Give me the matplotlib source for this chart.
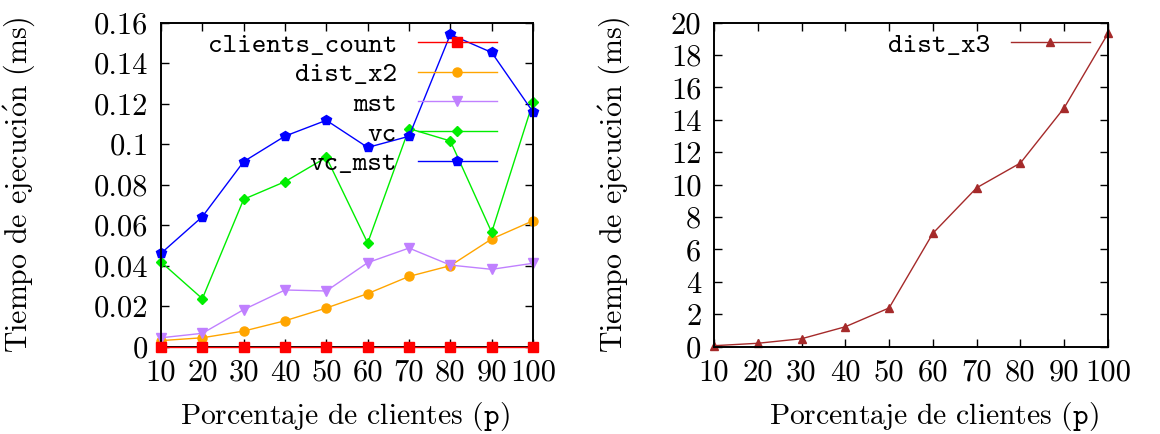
###################################################
# tiempos de ejecucion vs porcentaje de clientes
###################################################
import matplotlib
matplotlib.use("Agg")
import matplotlib.pyplot as plt
from matplotlib.ticker import FuncFormatter

plt.rcParams['font.family'] = ['cmr10', 'DejaVu Serif']
plt.rcParams['mathtext.fontset'] = 'cm'
plt.rcParams['axes.unicode_minus'] = False

# data
porcentaje = [10, 20, 30, 40, 50, 60, 70, 80, 90, 100]
clients_count = [0, 0, 0, 0, 0, 0, 0, 0, 0, 0]
dist_x2 = [0.0030, 0.0044, 0.0077, 0.0128, 0.0191, 0.0262, 0.0347, 0.0400, 0.0532, 0.0622]
mst = [0.0044, 0.0066, 0.0183, 0.0280, 0.0275, 0.0415, 0.0487, 0.0403, 0.0382, 0.0412]
vc = [0.0418, 0.0237, 0.0728, 0.0815, 0.0935, 0.0512, 0.1077, 0.1016, 0.0565, 0.1208]
vc_mst = [0.0461, 0.0642, 0.0914, 0.1040, 0.1118, 0.0984, 0.1039, 0.1542, 0.1453, 0.1159]
dist_x3 = [0.06, 0.21, 0.49, 1.23, 2.39, 7.0, 9.81, 11.34, 14.75, 19.34]

tick_fs = 22
xlab_fs = 21.3
ylab_fs = 21.5
leg_fs = 20
ylabel = 'Tiempo de ejecuci$\\mathrm{\\acute{o}}$n (ms)'
xlabel = 'Porcentaje de clientes ($\\mathtt{p}$)'


def style_axes(ax, ymax, ystep, xlab_x, ylab_x):
    """gnuplot look: ticks inside on all four sides"""
    ax.set_xlim(10, 100)
    ax.set_ylim(0, ymax)
    ax.set_xticks(porcentaje)
    ax.set_yticks([i * ystep for i in range(int(round(ymax / ystep)) + 1)])
    ax.yaxis.set_major_formatter(FuncFormatter(lambda v, p: '%g' % round(v, 4)))
    ax.tick_params(direction='in', length=6, width=1, top=True, right=True,
                   labelsize=tick_fs, pad=9)
    for s in ax.spines.values():
        s.set_linewidth(1.4)
    ax.set_xlabel(xlabel, fontsize=xlab_fs)
    ax.set_ylabel(ylabel, fontsize=ylab_fs)
    ax.xaxis.set_label_coords(xlab_x, -0.165)
    ax.yaxis.set_label_coords(ylab_x, 0.5)


def add_legend(ax, right):
    ax.legend(loc='upper right', bbox_to_anchor=(right, 0.97), frameon=False,
              markerfirst=False, handlelength=2.85, labelspacing=0.15,
              handletextpad=0.75, borderpad=0, borderaxespad=0,
              prop={'family': 'cmtt10', 'size': leg_fs})


fig = plt.figure(figsize=(11.6, 4.34), dpi=100)
ax1 = fig.add_axes([0.1388, 0.2012, 0.3207, 0.7465])
ax2 = fig.add_axes([0.6155, 0.2012, 0.3397, 0.7465])

ax1.plot(porcentaje, clients_count, color='#ff0000', marker='s', ms=7, lw=1,
         label='clients_count', clip_on=False, zorder=5)
ax1.plot(porcentaje, dist_x2, color='#ffa500', marker='o', ms=6.5, lw=1,
         label='dist_x2', clip_on=False)
ax1.plot(porcentaje, mst, color='#c080ff', marker='v', ms=6.5, lw=1,
         label='mst', clip_on=False)
ax1.plot(porcentaje, vc, color='#00ee00', marker='D', ms=5, lw=1,
         label='vc', clip_on=False)
ax1.plot(porcentaje, vc_mst, color='#0000ff', marker='p', ms=7, lw=1,
         label='vc_mst', clip_on=False)
style_axes(ax1, 0.16, 0.02, 0.495, -0.333)
add_legend(ax1, 0.903)

ax2.plot(porcentaje, dist_x3, color='#a52a2a', marker='^', ms=6, lw=1,
         label='dist_x3', clip_on=False)
style_axes(ax2, 20, 2, 0.558, -0.208)
add_legend(ax2, 0.954)

plt.savefig('out.png')
